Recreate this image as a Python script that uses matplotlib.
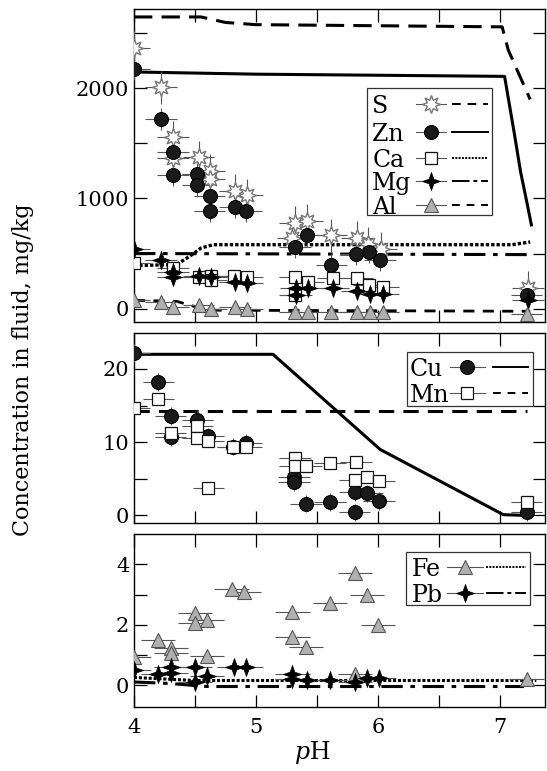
import numpy as np
import matplotlib
matplotlib.use("Agg")
import matplotlib.pyplot as plt
from matplotlib.path import Path
from matplotlib.patches import Rectangle

plt.rcParams['font.family'] = ['DejaVu Serif']
plt.rcParams['mathtext.fontset'] = 'dejavuserif'

# ---- top panel: measured points ----
S_ph = [4.0, 4.22, 4.32, 4.32, 4.53, 4.62, 4.62, 4.83, 4.93, 5.32, 5.42, 5.30, 5.62, 5.83, 5.92, 6.03, 7.23]
S_c = [2370, 2010, 1555, 1365, 1375, 1250, 1180, 1070, 1030, 780, 800, 645, 665, 645, 590, 545, 190]
Zn_ph = [4.0, 4.22, 4.32, 4.32, 4.52, 4.52, 4.62, 4.62, 4.83, 4.92, 5.32, 5.42, 5.62, 5.82, 5.93, 6.02, 7.22]
Zn_c = [2180, 1720, 1420, 1210, 1220, 1120, 1020, 885, 920, 885, 555, 665, 400, 500, 510, 445, 125]
Ca_ph = [4.0, 4.32, 4.53, 4.63, 4.63, 4.82, 4.93, 5.32, 5.32, 5.43, 5.63, 5.83, 5.93, 6.04]
Ca_c = [415, 370, 285, 300, 255, 300, 290, 290, 120, 245, 280, 280, 210, 200]
Mg_ph = [4.0, 4.22, 4.32, 4.32, 4.53, 4.63, 4.83, 4.93, 5.33, 5.33, 5.43, 5.63, 5.83, 5.94, 6.04, 7.23]
Mg_c = [540, 445, 330, 290, 300, 290, 245, 236, 190, 120, 190, 190, 155, 136, 136, 75]
Al_ph = [4.0, 4.22, 4.32, 4.53, 4.63, 4.83, 4.93, 5.32, 5.43, 5.62, 5.83, 5.94, 6.04, 7.22]
Al_c = [80, 60, 15, 35, 0, 15, 0, -30, -30, -30, -30, -30, -30, -50]

# ---- top panel: model curves ----
S_mod_ph = [4.0, 4.55, 4.75, 5.0, 7.02, 7.07, 7.15, 7.25]
S_mod = [2650, 2650, 2600, 2580, 2560, 2350, 2150, 1900]
Zn_mod_ph = [4.0, 5.0, 7.04, 7.08, 7.12, 7.17, 7.22, 7.26]
Zn_mod = [2150, 2130, 2110, 1850, 1590, 1250, 980, 760]
Ca_mod_ph = [4.0, 4.35, 4.45, 4.55, 4.65, 7.1, 7.25]
Ca_mod = [390, 400, 470, 550, 580, 580, 605]
Mg_mod_ph = [4.0, 7.25]
Mg_mod = [500, 490]
Al_mod_ph = [4.0, 4.35, 4.6, 7.25]
Al_mod = [75, 65, -15, -25]

# ---- middle panel ----
Cu_ph = [4.0, 4.2, 4.3, 4.3, 4.52, 4.61, 4.81, 4.92, 5.31, 5.31, 5.41, 5.61, 5.81, 5.91, 6.01, 5.81, 7.22]
Cu_c = [22.2, 18.2, 13.6, 10.7, 13.0, 10.8, 9.4, 9.9, 5.3, 4.5, 1.6, 1.8, 3.2, 3.0, 2.0, 0.4, 0.4]
Mn_ph = [4.0, 4.2, 4.3, 4.52, 4.52, 4.61, 4.61, 4.81, 4.92, 5.32, 5.32, 5.41, 5.61, 5.82, 5.81, 5.91, 6.01, 7.22]
Mn_c = [14.6, 15.9, 11.3, 12.2, 10.6, 10.2, 3.8, 9.3, 9.3, 7.8, 6.7, 6.8, 7.2, 7.3, 4.9, 5.2, 4.7, 1.8]
Cu_mod_ph = [4.0, 5.14, 6.02, 7.03, 7.22]
Cu_mod = [22.0, 22.0, 9.0, 0.1, 0.0]
Mn_mod_ph = [4.0, 7.22]
Mn_mod = [14.3, 14.3]

# ---- bottom panel ----
Fe_ph = [4.0, 4.2, 4.3, 4.3, 4.5, 4.5, 4.6, 4.6, 4.8, 4.9, 5.3, 5.3, 5.41, 5.61, 5.81, 5.91, 6.0, 5.81, 7.22]
Fe_c = [0.93, 1.49, 1.22, 1.05, 2.38, 2.05, 2.15, 0.96, 3.2, 3.1, 2.41, 1.58, 1.26, 2.71, 3.7, 2.98, 2.0, 0.36, 0.2]
Pb_ph = [4.0, 4.2, 4.3, 4.3, 4.5, 4.5, 4.6, 4.82, 4.92, 5.3, 5.3, 5.42, 5.61, 5.81, 5.91, 6.01]
Pb_c = [0.5, 0.36, 0.6, 0.4, 0.6, 0.1, 0.3, 0.6, 0.6, 0.36, 0.2, 0.17, 0.17, 0.1, 0.22, 0.22]
Fe_mod_ph = [4.0, 4.5, 7.3]
Fe_mod = [0.25, 0.15, 0.15]
Pb_mod_ph = [4.0, 4.3, 4.6, 7.2]
Pb_mod = [0.1, 0.05, -0.05, -0.05]

# marker styles
star4 = Path([(0, 1), (0.26, 0.26), (1, 0), (0.26, -0.26), (0, -1), (-0.26, -0.26), (-1, 0), (-0.26, 0.26), (0, 1)],
             [Path.MOVETO] + [Path.LINETO] * 7 + [Path.CLOSEPOLY])
MK = {
    'S': dict(marker=(8, 1, 0), ms=13, mfc='white', mec='#777777', mew=1.0),
    'Zn': dict(marker='o', ms=10, mfc='#1a1a1a', mec='#000000', mew=0.8),
    'Ca': dict(marker='s', ms=8.5, mfc='white', mec='#111111', mew=0.9),
    'Mg': dict(marker=star4, ms=13, mfc='#000000', mec='#000000', mew=0.5),
    'Al': dict(marker='^', ms=10, mfc='#b0b0b0', mec='#555555', mew=0.8),
}
MK['Cu'] = MK['Zn']
MK['Mn'] = MK['Ca']
MK['Fe'] = MK['Al']
MK['Pb'] = MK['Mg']

LS = {
    'S': dict(ls=(0, (6, 3)), lw=2.2),
    'Zn': dict(ls='-', lw=2.2),
    'Ca': dict(ls=(0, (1, 0.6)), lw=2.4),
    'Mg': dict(ls=(0, (7, 2.5, 1.5, 2.5)), lw=2.2),
    'Al': dict(ls=(0, (4, 3)), lw=2.0),
    'Cu': dict(ls='-', lw=2.2),
    'Mn': dict(ls=(0, (5, 3)), lw=2.2),
    'Fe': dict(ls=(0, (1, 0.6)), lw=2.2),
    'Pb': dict(ls=(0, (7, 2.5, 1.5, 2.5)), lw=2.2),
}
LEG_LS = {
    'S': (0, (4.5, 3.5)), 'Zn': '-', 'Ca': (0, (1, 0.7)), 'Mg': (0, (9, 2, 2, 2)),
    'Al': (0, (4, 3.5)), 'Cu': '-', 'Mn': (0, (4, 3.5)), 'Fe': (0, (1, 0.7)), 'Pb': (0, (9, 2, 2, 2)),
}

fig = plt.figure(figsize=(5.47, 7.71), dpi=100)
L, R = 0.245, 0.996
ax1 = fig.add_axes([L, 0.582, R - L, 0.988 - 0.582])
ax2 = fig.add_axes([L, 0.322, R - L, 0.568 - 0.322])
ax3 = fig.add_axes([L, 0.083, R - L, 0.307 - 0.083])


def draw(ax, name, ph, c, mph, mc, xerr, yerr):
    ax.plot(mph, mc, color='black', zorder=2, **LS[name])
    ax.errorbar(ph, c, xerr=xerr, yerr=yerr, fmt='none', ecolor='#555555', elinewidth=0.8, capsize=0, zorder=3)
    ax.plot(ph, c, ls='none', zorder=4, **MK[name])


def legend(ax, names, box, tx, mseg, sseg, rows):
    # hand-drawn legend: label left, marker with bar, model line style
    tr = ax.transAxes
    ax.add_patch(Rectangle((box[0], box[1]), box[2] - box[0], box[3] - box[1], transform=tr,
                           facecolor='white', edgecolor='#333333', lw=0.9, zorder=10, clip_on=False))
    for n, y in zip(names, rows):
        ax.text(tx, y, n, transform=tr, fontsize=17, ha='left', va='center_baseline', zorder=11)
        ax.plot(mseg, [y, y], transform=tr, color='#555555', lw=0.8, zorder=11, clip_on=False)
        ax.plot([(mseg[0] + mseg[1]) / 2], [y], transform=tr, ls='none', zorder=12, clip_on=False, **MK[n])
        ax.plot(sseg, [y, y], transform=tr, color='black', lw=1.4, ls=LEG_LS[n], zorder=11, clip_on=False)


draw(ax1, 'S', S_ph, S_c, S_mod_ph, S_mod, 0.13, 150)
draw(ax1, 'Zn', Zn_ph, Zn_c, Zn_mod_ph, Zn_mod, 0.13, 100)
draw(ax1, 'Ca', Ca_ph, Ca_c, Ca_mod_ph, Ca_mod, 0.13, 40)
draw(ax1, 'Mg', Mg_ph, Mg_c, Mg_mod_ph, Mg_mod, 0.13, 40)
draw(ax1, 'Al', Al_ph, Al_c, Al_mod_ph, Al_mod, 0.13, 0)
legend(ax1, ['S', 'Zn', 'Ca', 'Mg', 'Al'], (0.567, 0.342, 0.871, 0.748), 0.580,
       [0.686, 0.759], [0.774, 0.861], [0.696, 0.607, 0.524, 0.450, 0.374])

draw(ax2, 'Cu', Cu_ph, Cu_c, Cu_mod_ph, Cu_mod, 0.13, 1.2)
draw(ax2, 'Mn', Mn_ph, Mn_c, Mn_mod_ph, Mn_mod, 0.13, 0.5)
legend(ax2, ['Cu', 'Mn'], (0.664, 0.616, 0.971, 0.900), 0.672,
       [0.769, 0.854], [0.873, 0.959], [0.821, 0.684])

draw(ax3, 'Fe', Fe_ph, Fe_c, Fe_mod_ph, Fe_mod, 0.14, 0)
draw(ax3, 'Pb', Pb_ph, Pb_c, Pb_mod_ph, Pb_mod, 0.14, 0)
legend(ax3, ['Fe', 'Pb'], (0.662, 0.590, 0.964, 0.896), 0.676,
       [0.762, 0.849], [0.856, 0.955], [0.809, 0.659])

ax1.set_ylim(-125, 2720)
ax1.set_yticks([0, 1000, 2000])
ax1.set_yticks([500, 1500, 2500], minor=True)
ax2.set_ylim(-1, 24.9)
ax2.set_yticks([0, 10, 20])
ax2.set_yticks([5, 15], minor=True)
ax3.set_ylim(-0.73, 5)
ax3.set_yticks([0, 2, 4])
ax3.set_yticks([1, 3], minor=True)

for ax in (ax1, ax2, ax3):
    ax.set_xlim(4.0, 7.37)
    ax.set_xticks([4, 5, 6, 7])
    ax.set_xticks([4.5, 5.5, 6.5], minor=True)
    ax.tick_params(which='both', direction='in', top=True, right=True, length=9, width=0.9, labelsize=15)
    for s in ax.spines.values():
        s.set_linewidth(1.0)
    if ax is not ax3:
        ax.tick_params(labelbottom=False)
ax3.tick_params(axis='x', pad=8)

fig.text(0.042, 0.521, 'Concentration in fluid, mg/kg', rotation=90, ha='center', va='center', fontsize=16)
fig.text(0.570, 1 - 752 / 771, r'$p$H', ha='center', va='center', fontsize=17)

fig.savefig('out.png', dpi=100)
